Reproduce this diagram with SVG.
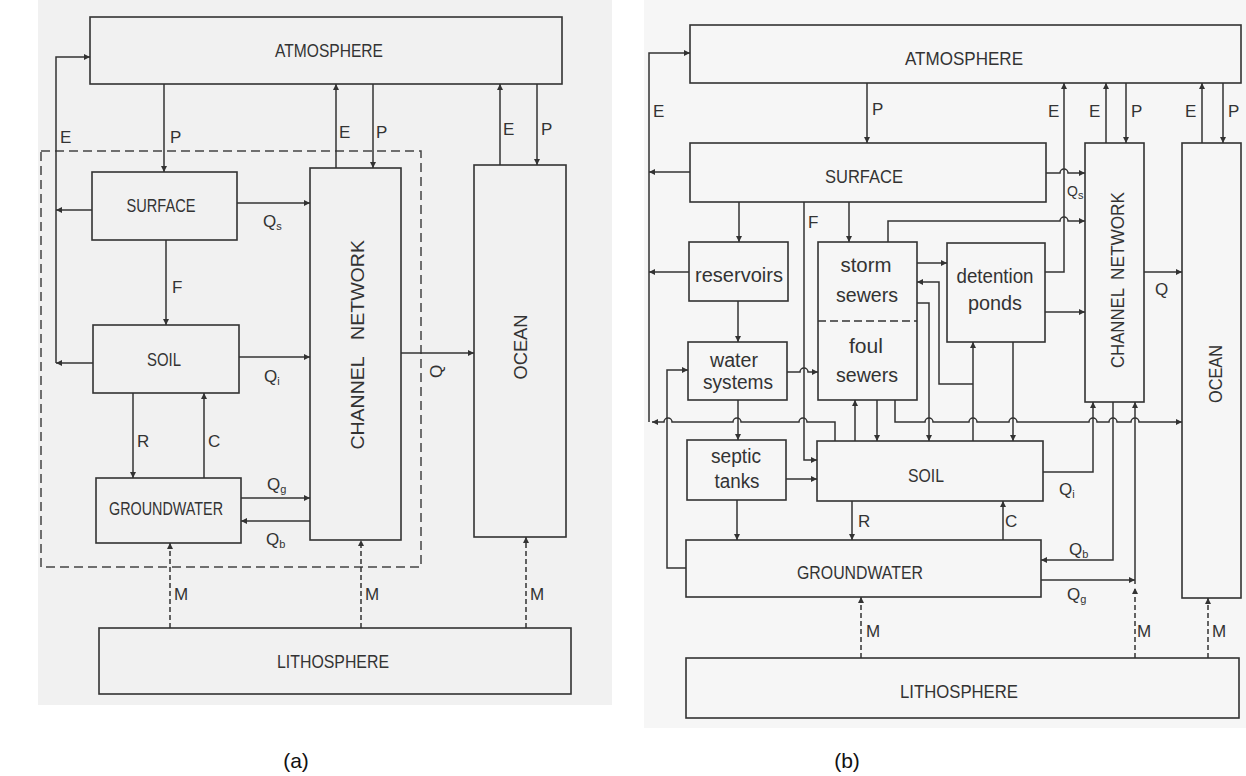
<svg xmlns="http://www.w3.org/2000/svg" width="1246" height="776" viewBox="0 0 1246 776">
<defs>
<marker id="ah" viewBox="0 0 10 10" refX="10" refY="5" markerWidth="7" markerHeight="6" markerUnits="userSpaceOnUse" orient="auto"><path d="M0,0 L10,5 L0,10 z" fill="#333"/></marker>
<style>
.box{fill:none;stroke:#333;stroke-width:1.6}
.ln{fill:none;stroke:#333;stroke-width:1.5;marker-end:url(#ah)}
.dash{stroke-dasharray:5,3}
.bd{fill:none;stroke:#444;stroke-width:1.5;stroke-dasharray:9,5}
.t{font-family:"Liberation Sans",Arial,sans-serif;fill:#333;font-size:19px;text-anchor:middle}
.w{font-family:"Liberation Sans",Arial,sans-serif;fill:#333;font-size:20px;text-anchor:middle}
.lb{font-family:"Liberation Sans",Arial,sans-serif;fill:#333;font-size:17px}
.sub{font-size:11px}
.cap{font-family:"Liberation Sans",Arial,sans-serif;fill:#111;font-size:21px;text-anchor:middle}
</style>
</defs>
<rect width="1246" height="776" fill="#ffffff"/>
<rect x="38" y="0" width="574" height="705" fill="#f1f1f1"/>
<rect x="644" y="0" width="602" height="728" fill="#f6f6f6"/>

<!-- ===== Diagram (a) ===== -->
<rect class="bd" x="41" y="151" width="380" height="416"/>
<g id="a-atmosphere"><rect class="box" x="90" y="17" width="472" height="67"/><text class="t" x="329" y="57" textLength="108" lengthAdjust="spacingAndGlyphs">ATMOSPHERE</text></g>
<g id="a-surface"><rect class="box" x="92" y="172" width="145" height="68"/><text class="t" x="161" y="212" textLength="69" lengthAdjust="spacingAndGlyphs">SURFACE</text></g>
<g id="a-soil"><rect class="box" x="93" y="325" width="146" height="68"/><text class="t" x="164" y="366" textLength="34" lengthAdjust="spacingAndGlyphs">SOIL</text></g>
<g id="a-groundwater"><rect class="box" x="96" y="478" width="145" height="65"/><text class="t" x="166" y="515" textLength="114" lengthAdjust="spacingAndGlyphs">GROUNDWATER</text></g>
<g id="a-channel"><rect class="box" x="310" y="168" width="91" height="372"/><text class="t" transform="rotate(-90 364 403)" x="364" y="403" textLength="93" lengthAdjust="spacingAndGlyphs">CHANNEL</text><text class="t" transform="rotate(-90 364 290)" x="364" y="290" textLength="100" lengthAdjust="spacingAndGlyphs">NETWORK</text></g>
<g id="a-ocean"><rect class="box" x="474" y="165" width="92" height="372"/><text class="t" transform="rotate(-90 527 347)" x="527" y="347" textLength="65" lengthAdjust="spacingAndGlyphs">OCEAN</text></g>
<g id="a-lithosphere"><rect class="box" x="99" y="628" width="472" height="66"/><text class="t" x="333" y="668" textLength="112" lengthAdjust="spacingAndGlyphs">LITHOSPHERE</text></g>

<g id="a-connectors">
<path class="ln" d="M56,363 V57 H90"/>
<path class="ln" d="M92,210 H56"/>
<path class="ln" d="M93,363 H56"/>
<path class="ln" d="M164,84 V172"/>
<path class="ln" d="M166,240 V325"/>
<path class="ln" d="M133,393 V478"/>
<path class="ln" d="M204,478 V393"/>
<path class="ln" d="M237,203 H310"/>
<path class="ln" d="M239,357 H310"/>
<path class="ln" d="M241,498 H310"/>
<path class="ln" d="M310,521 H241"/>
<path class="ln" d="M336,168 V84"/>
<path class="ln" d="M373,84 V168"/>
<path class="ln" d="M401,353 H474"/>
<path class="ln" d="M500,165 V84"/>
<path class="ln" d="M537,84 V165"/>
<path class="ln dash" d="M170,628 V543"/>
<path class="ln dash" d="M361,628 V540"/>
<path class="ln dash" d="M526,628 V537"/>
</g>
<g id="a-labels">
<text class="lb" x="60" y="143">E</text>
<text class="lb" x="170" y="143">P</text>
<text class="lb" x="172" y="293">F</text>
<text class="lb" x="137" y="447">R</text>
<text class="lb" x="208" y="447">C</text>
<text class="lb" x="339" y="138">E</text>
<text class="lb" x="376" y="138">P</text>
<text class="lb" x="503" y="135">E</text>
<text class="lb" x="541" y="135">P</text>
<text class="lb" x="174" y="600">M</text>
<text class="lb" x="365" y="600">M</text>
<text class="lb" x="530" y="600">M</text>
<text class="lb" x="263" y="227">Q<tspan class="sub" dy="3">s</tspan></text>
<text class="lb" x="264" y="382">Q<tspan class="sub" dy="3">i</tspan></text>
<text class="lb" x="267" y="490">Q<tspan class="sub" dy="3">g</tspan></text>
<text class="lb" x="266" y="545">Q<tspan class="sub" dy="3">b</tspan></text>
<text class="lb" transform="rotate(-90 442 378)" x="442" y="378">Q</text>
</g>
<text class="cap" x="296" y="768">(a)</text>

<!-- ===== Diagram (b) ===== -->
<g id="b-atmosphere"><rect class="box" x="690" y="25" width="551" height="58"/><text class="t" x="964" y="65" textLength="118" lengthAdjust="spacingAndGlyphs">ATMOSPHERE</text></g>
<g id="b-surface"><rect class="box" x="690" y="143" width="356" height="59"/><text class="t" x="864" y="183" textLength="78" lengthAdjust="spacingAndGlyphs">SURFACE</text></g>
<g id="b-reservoirs"><rect class="box" x="689" y="242" width="99" height="59"/><text class="w" x="739" y="282" textLength="88" lengthAdjust="spacingAndGlyphs">reservoirs</text></g>
<g id="b-water-systems"><rect class="box" x="688" y="342" width="99" height="58"/><text class="w" x="734" y="367" textLength="48" lengthAdjust="spacingAndGlyphs">water</text><text class="w" x="738" y="389" textLength="70" lengthAdjust="spacingAndGlyphs">systems</text></g>
<g id="b-sewers"><rect class="box" x="818" y="242" width="99" height="158"/><line x1="818" y1="321" x2="917" y2="321" stroke="#333" stroke-width="1.5" stroke-dasharray="8,4"/><text class="w" x="866" y="272" textLength="51" lengthAdjust="spacingAndGlyphs">storm</text><text class="w" x="867" y="302" textLength="62" lengthAdjust="spacingAndGlyphs">sewers</text><text class="w" x="866" y="353" textLength="34" lengthAdjust="spacingAndGlyphs">foul</text><text class="w" x="867" y="382" textLength="62" lengthAdjust="spacingAndGlyphs">sewers</text></g>
<g id="b-detention-ponds"><rect class="box" x="947" y="243" width="98" height="99"/><text class="w" x="995" y="283" textLength="77" lengthAdjust="spacingAndGlyphs">detention</text><text class="w" x="995" y="310" textLength="54" lengthAdjust="spacingAndGlyphs">ponds</text></g>
<g id="b-channel"><rect class="box" x="1085" y="143" width="59" height="259"/><text class="t" transform="rotate(-90 1124 328)" x="1124" y="328" textLength="80" lengthAdjust="spacingAndGlyphs">CHANNEL</text><text class="t" transform="rotate(-90 1124 236)" x="1124" y="236" textLength="88" lengthAdjust="spacingAndGlyphs">NETWORK</text></g>
<g id="b-ocean"><rect class="box" x="1182" y="143" width="59" height="455"/><text class="t" transform="rotate(-90 1222 374)" x="1222" y="374" textLength="58" lengthAdjust="spacingAndGlyphs">OCEAN</text></g>
<g id="b-septic-tanks"><rect class="box" x="687" y="440" width="99" height="60"/><text class="w" x="736" y="463" textLength="50" lengthAdjust="spacingAndGlyphs">septic</text><text class="w" x="737" y="488" textLength="45" lengthAdjust="spacingAndGlyphs">tanks</text></g>
<g id="b-soil"><rect class="box" x="817" y="441" width="226" height="60"/><text class="t" x="926" y="482" textLength="36" lengthAdjust="spacingAndGlyphs">SOIL</text></g>
<g id="b-groundwater"><rect class="box" x="686" y="540" width="355" height="57"/><text class="t" x="860" y="579" textLength="126" lengthAdjust="spacingAndGlyphs">GROUNDWATER</text></g>
<g id="b-lithosphere"><rect class="box" x="686" y="658" width="553" height="60"/><text class="t" x="959" y="698" textLength="118" lengthAdjust="spacingAndGlyphs">LITHOSPHERE</text></g>

<g id="b-connectors">
<path class="ln" d="M649,422 V53 H690"/>
<path class="ln" d="M690,172 H649"/>
<path class="ln" d="M689,272 H649"/>
<path class="ln" d="M835,441 V422 H807 a4,4 0 0 0 -8,0 H741 a4,4 0 0 0 -8,0 H672 a4,4 0 0 0 -8,0 H652"/>
<path class="ln" d="M867,83 V143"/>
<path class="ln" d="M739,202 V242"/>
<path class="ln" d="M804,202 V460 H817"/>
<path class="ln" d="M849,202 V242"/>
<path class="ln" d="M888,242 V221 H1060 a4,4 0 0 1 8,0 H1085"/>
<path class="ln" d="M1046,173 H1060 a4,4 0 0 1 8,0 H1085"/>
<path class="ln" d="M1045,272 H1064 V83"/>
<path class="ln" d="M1106,143 V83"/>
<path class="ln" d="M1126,83 V143"/>
<path class="ln" d="M1202,143 V83"/>
<path class="ln" d="M1223,83 V143"/>
<path class="ln" d="M1144,272 H1182"/>
<path class="ln" d="M917,263 H947"/>
<path class="ln" d="M1045,312 H1085"/>
<path class="ln" d="M973,441 V342"/>
<path class="ln" d="M973,384 H939 V282 H917"/>
<path class="ln" d="M917,303 H929 V441"/>
<path class="ln" d="M1013,342 V441"/>
<path class="ln" d="M738,301 V342"/>
<path class="ln" d="M787,372 H800 a4,4 0 0 1 8,0 H818"/>
<path class="ln" d="M738,400 V440"/>
<path class="ln" d="M686,568 H667 V370 H688"/>
<path class="ln" d="M855,441 V400"/>
<path class="ln" d="M877,400 V441"/>
<path class="ln" d="M895,400 V422 H925 a4,4 0 0 1 8,0 H969 a4,4 0 0 1 8,0 H1009 a4,4 0 0 1 8,0 H1089 a4,4 0 0 1 8,0 H1109 a4,4 0 0 1 8,0 H1131 a4,4 0 0 1 8,0 H1182"/>
<path class="ln" d="M786,479 H817"/>
<path class="ln" d="M737,500 V540"/>
<path class="ln" d="M852,501 V540"/>
<path class="ln" d="M1003,540 V501"/>
<path class="ln" d="M1043,472 H1093 V402"/>
<path class="ln" d="M1113,402 V560 H1041"/>
<path class="ln" d="M1041,580 H1135"/>
<path class="ln" d="M1135,584 V402"/>
<path class="ln dash" d="M1135,658 V588"/>
<path class="ln dash" d="M861,658 V597"/>
<path class="ln dash" d="M1208,658 V598"/>
</g>
<g id="b-labels">
<text class="lb" x="653" y="117">E</text>
<text class="lb" x="872" y="115">P</text>
<text class="lb" x="808" y="228">F</text>
<text class="lb" x="1048" y="117">E</text>
<text class="lb" x="1089" y="117">E</text>
<text class="lb" x="1131" y="117">P</text>
<text class="lb" x="1185" y="117">E</text>
<text class="lb" x="1228" y="117">P</text>
<text class="lb" x="1155" y="295">Q</text>
<text class="lb" x="1067" y="196" style="font-size:14px">Q<tspan class="sub" dy="3">s</tspan></text>
<text class="lb" x="1059" y="495">Q<tspan class="sub" dy="3">i</tspan></text>
<text class="lb" x="858" y="527">R</text>
<text class="lb" x="1005" y="527">C</text>
<text class="lb" x="1069" y="555">Q<tspan class="sub" dy="3">b</tspan></text>
<text class="lb" x="1067" y="600">Q<tspan class="sub" dy="3">g</tspan></text>
<text class="lb" x="866" y="637">M</text>
<text class="lb" x="1137" y="637">M</text>
<text class="lb" x="1212" y="637">M</text>
</g>
<text class="cap" x="847" y="768">(b)</text>
</svg>
